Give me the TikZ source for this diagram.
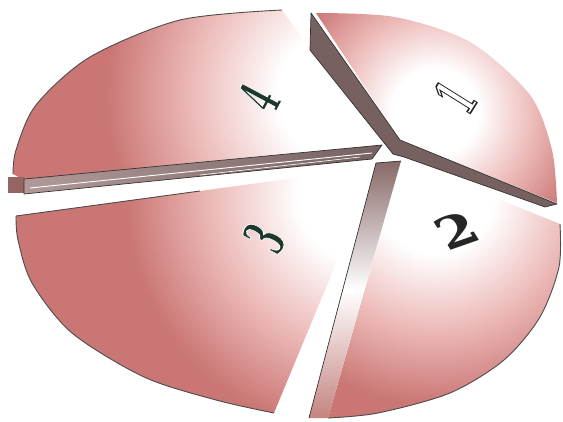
\documentclass[tikz,border=0pt]{standalone}
\usepackage{fontspec}
\newfontfamily\digitfont{DejaVu Serif}
\usetikzlibrary{calc}

\definecolor{pieRose}{RGB}{202,118,116}
\definecolor{pieBlush}{RGB}{236,186,184}
\definecolor{wallDark}{RGB}{118,96,96}
\definecolor{wallMauve}{RGB}{158,128,128}
\definecolor{wallBrown}{RGB}{136,104,104}
\definecolor{wallPink}{RGB}{196,132,128}
\definecolor{rimBrown}{RGB}{150,100,98}
\definecolor{digitGreen}{RGB}{28,56,44}

\pgfdeclareradialshading{pieglow}{\pgfpoint{0bp}{0bp}}{%
  color(0bp)=(white); color(3.5bp)=(white); color(8bp)=(pieBlush);
  color(12.5bp)=(pieRose); color(50bp)=(pieRose)}

% shade one slice from its own light point
\newcommand{\glowSlice}[3]{% #1 = outline, #2 = light point, #3 = radius
  \begin{scope}
    \clip #1;
    \shade[shading=pieglow] #2 circle [radius=2*#3];
  \end{scope}
}
% digit with a stroked outline, #1 = stroke rgb, #2 = width, #3 = text
\newcommand{\outlineDigit}[3]{%
  \special{pdf:literal direct #1 RG #2 w 2 Tr}#3\special{pdf:literal direct 0 Tr}}

\begin{document}
\begin{tikzpicture}[x=1pt, y=-1pt,
  rim/.style={draw=black!70, line width=0.9pt, line join=round},
  wall/.style={draw=black!80, line width=0.7pt, line join=round},
  digit/.style={font=\digitfont\fontsize{58}{58}\selectfont\bfseries, inner sep=0pt}
]
\useasboundingbox (0,0) rectangle (563,421);

% ---------- slice faces ----------
% slice 1 (top right)
\glowSlice{(400,140) -- plot[smooth] coordinates {(316,13) (395,17) (470,42) (530,95) (552,150) (557,203)} -- cycle}{(435,112)}{155}
% slice 2 (bottom right)
\glowSlice{(402,160) -- plot[smooth] coordinates {(560,224) (559,267) (540,317) (504,360) (450,393) (378,413) (328,418)} -- cycle}{(435,195)}{210}
% slice 3 (bottom left)
\glowSlice{(376,167) -- plot[smooth] coordinates {(16,216) (18,240) (32,283) (72,333) (144,377) (216,400) (274,413)} -- cycle}{(365,195)}{240}
% slice 4 (top left)
\glowSlice{(378,144) -- (24,180) -- plot[smooth] coordinates {(13,174) (16,150) (36,105) (90,57) (180,20) (282,10)} -- cycle}{(345,95)}{240}

% ---------- side walls ----------
\fill[rimBrown] (8,177) rectangle (24,193);
\shade[wall, left color=wallMauve!80!white, right color=wallDark]
  (24,179) -- (382,145) -- (372,159) -- (24,194) -- cycle;
\draw[white, line width=0.9pt] (30,188) -- (372,153);
\draw[white, line width=0.6pt] (200,175) -- (360,157);
\draw[wall, fill=wallDark] (311,13) -- (400,140) -- (557,204) -- (545,207) -- (404,157) -- (393,154) -- (310,50) -- cycle;
\shade[top color=wallBrown, bottom color=wallPink, middle color=white]
  (376,163) -- (401,161) -- (328,418) -- (309,418) -- cycle;
\draw[wall] (376,163) -- (309,418);
\draw[wall] (376,163) -- (401,161);

% ---------- rims ----------
\draw[rim] plot[smooth] coordinates {(13,174) (16,150) (36,105) (90,57) (180,20) (282,10)};
\draw[rim] (200,191) -- plot[smooth] coordinates {(16,216) (18,240) (32,283) (72,333) (144,377) (216,400) (274,413)};
\draw[rim] plot[smooth] coordinates {(560,224) (559,267) (540,317) (504,360) (450,393) (378,413) (328,418)};

% ---------- digits ----------
\node[digit, text=digitGreen, rotate=62, xscale=0.45] (four) at (259,98) {\outlineDigit{1 1 1}{1}{4}};
\node[digit, text=digitGreen, rotate=62, xscale=0.5] (three) at (264,238) {\outlineDigit{1 1 1}{1}{3}};
\node[digit, text=white, rotate=58, xscale=0.5] (one) at (455,97) {\outlineDigit{0.15 0.15 0.15}{1.6}{1}};
\node[digit, text=black!85, yscale=0.75, rotate=25] (two) at (457,230) {2};
\end{tikzpicture}
\end{document}
